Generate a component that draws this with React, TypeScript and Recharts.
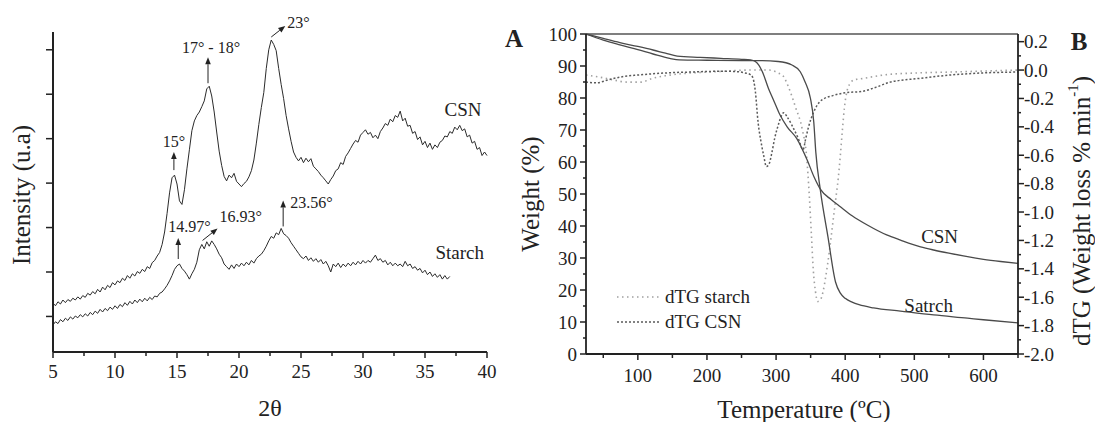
import React from 'react'
import { LineChart, Line, XAxis, YAxis, ReferenceDot, ReferenceLine } from 'recharts'

const FONT = '"Liberation Serif", "Times New Roman", serif'
const INK = '#222'

// ---- XRD (left panel): intensity read every 0.2° from 2θ = 5°
const xrdStart = 5
const xrdStep = 0.2
const csnIntensity = [
  130, 124, 133, 128, 137, 131, 138, 134, 141, 137,
  144, 139, 147, 143, 152, 148, 156, 151, 161, 155,
  166, 160, 170, 165, 176, 171, 180, 176, 186, 181,
  192, 186, 196, 191, 201, 197, 206, 201, 212, 208,
  221, 226, 236, 244, 262, 290, 332, 378, 412, 418,
  398, 360, 352, 385, 432, 475, 518, 540, 552, 560,
  572, 585, 612, 618, 596, 560, 515, 472, 440, 415,
  405, 418, 412, 422, 404, 398, 392, 399, 404, 414,
  428, 452, 490, 532, 570, 604, 658, 700, 722, 712,
  698, 658, 622, 590, 552, 522, 494, 470, 458, 450,
  458, 446, 456, 448, 455, 438, 432, 426, 418, 412,
  405, 398, 408, 416, 428, 432, 446, 442, 460, 468,
  478, 488, 496, 492, 508, 514, 520, 510, 514, 502,
  508, 500, 516, 524, 534, 530, 544, 538, 552, 548,
  562, 540, 546, 528, 530, 512, 516, 498, 504, 486,
  494, 480, 490, 476, 486, 480, 492, 496, 506, 504,
  516, 512, 526, 520, 530, 518, 522, 504, 508, 490,
  494, 476, 480, 462, 470, 462,
]
const starchIntensity = [
  81, 88, 84, 93, 88, 96, 91, 99, 94, 101,
  97, 104, 99, 106, 101, 109, 104, 112, 107, 116,
  110, 118, 113, 121, 116, 124, 118, 127, 122, 131,
  125, 134, 128, 137, 131, 139, 133, 141, 135, 143,
  138, 146, 144, 152, 155, 162, 170, 180, 192, 206,
  214, 218, 208, 202, 194, 184, 196, 206, 222, 250,
  262, 252, 268, 258, 270, 262, 252, 240, 232, 218,
  212, 206, 216, 208, 218, 212, 220, 214, 222, 216,
  226, 220, 230, 236, 240, 248, 258, 270, 280, 276,
  288, 284, 298, 286, 282, 276, 266, 258, 250, 242,
  234, 230, 236, 226, 232, 224, 230, 222, 228, 218,
  224, 214, 200, 218, 212, 220, 210, 218, 212, 220,
  214, 222, 216, 224, 218, 226, 220, 226, 222, 230,
  238, 226, 230, 222, 226, 216, 222, 214, 220, 214,
  218, 212, 224, 214, 218, 208, 212, 204, 208, 198,
  204, 194, 200, 190, 196, 188, 194, 184, 192, 184,
  190,
]
const twoThetaTicks = [5, 7.5, 10, 12.5, 15, 17.5, 20, 22.5, 25, 27.5, 30, 32.5, 35, 37.5, 40]
const intensityTicks = [100, 200, 300, 400, 500, 600, 700]

// peak notes: data point, then arrow / text offsets in px
const xrdNotes = [
  { x: 14.75, y: 418, text: '15°', arrow: [0, -5, 0, -23], tx: 0, ty: -28, anchor: 'middle' },
  { x: 17.5, y: 618, text: '17° - 18°', arrow: [0, -3, 0, -29], tx: 3, ty: -33, anchor: 'middle' },
  { x: 22.6, y: 722, text: '23°', arrow: [0, -3, 14, -14], tx: 16, ty: -12, anchor: 'start' },
  { x: 15.1, y: 218, text: '14.97°', arrow: [0, -5, 0, -26], tx: -10, ty: -32, anchor: 'start' },
  { x: 16.9, y: 262, text: '16.93°', arrow: [2, -4, 17, -16], tx: 19, ty: -22, anchor: 'start' },
  { x: 23.4, y: 298, text: '23.56°', arrow: [2, -2, 2, -28], tx: 9, ty: -20, anchor: 'start' },
]
const xrdLabels = [
  { x: 38.06, y: 551, text: 'CSN' },
  { x: 37.8, y: 229, text: 'Starch' },
]

// ---- TGA / dTG (right panel): [temperature °C, value]
const csnWeight: [number, number][] = [
  [25, 100], [50, 98.6], [74, 97.3], [100, 96.1], [122, 95.0], [140, 94.0], [157, 93.1],
  [190, 92.7], [220, 92.4], [250, 92.1], [263, 91.9], [270, 91.4], [275, 90.3], [280, 88.3],
  [289, 83], [297, 79], [305, 75], [316, 71], [330, 67.3], [345, 60.6], [355, 55.3],
  [364, 51.5], [380, 48.2], [393, 46], [410, 43.2], [432, 40.3], [460, 37.2], [480, 35.6],
  [509, 33.5], [528, 32.5], [550, 31.5], [577, 30.4], [600, 29.6], [625, 28.9], [650, 28.3],
]
const starchWeight: [number, number][] = [
  [25, 100], [50, 98.1], [74, 96.6], [100, 95.1], [122, 93.75], [146, 92.4], [160, 91.9],
  [200, 91.8], [250, 91.7], [277, 91.7], [303, 91.4], [323, 90.3], [335, 88.2], [342, 85],
  [349.6, 80], [354.5, 72.6], [357.5, 63], [364, 51.3], [375, 36.7], [386, 22.5], [393, 19],
  [400, 17.4], [410, 16.2], [420, 15.4], [441, 14.4], [480, 13.4], [528, 12.2], [577, 11.2],
  [600, 10.7], [650, 9.7],
]
const csnDtg: [number, number][] = [
  [25, -0.085], [40, -0.09], [60, -0.065], [80, -0.045], [100, -0.035], [125, -0.025],
  [150, -0.018], [175, -0.014], [200, -0.01], [225, -0.008], [245, -0.012], [255, -0.02],
  [262, -0.03], [266, -0.05], [270, -0.15], [274, -0.37], [278, -0.5], [282, -0.6],
  [286, -0.68], [290, -0.66], [294, -0.58], [298, -0.48], [303, -0.39], [307, -0.33],
  [311, -0.3], [316, -0.33], [323, -0.39], [332, -0.48], [339, -0.56], [343, -0.48],
  [347, -0.4], [354, -0.3], [362, -0.23], [370, -0.2], [382, -0.18], [400, -0.16],
  [425, -0.15], [445, -0.12], [465, -0.085], [505, -0.06], [552, -0.035], [600, -0.02],
  [650, -0.014],
]
const starchDtg: [number, number][] = [
  [25, -0.035], [45, -0.05], [65, -0.07], [85, -0.085], [105, -0.085], [120, -0.06],
  [140, -0.04], [165, -0.025], [200, -0.014], [230, -0.007], [260, 0], [290, 0],
  [303, -0.02], [310, -0.04], [318, -0.12], [328, -0.26], [338, -0.42], [344, -0.6],
  [348, -0.88], [351, -1.15], [354, -1.42], [357, -1.56], [360, -1.63], [364, -1.62],
  [368, -1.56], [372, -1.45], [377, -1.28], [382, -1.08], [386, -0.92], [390, -0.76],
  [393, -0.6], [396, -0.42], [399, -0.26], [403, -0.14], [408, -0.09], [412, -0.07],
  [425, -0.06], [455, -0.035], [505, -0.02], [553, -0.014], [600, -0.007], [650, 0],
]
const tempTicks = [50, 100, 150, 200, 250, 300, 350, 400, 450, 500, 550, 600, 650]
const weightTicks = [0, 5, 10, 15, 20, 25, 30, 35, 40, 45, 50, 55, 60, 65, 70, 75, 80, 85, 90, 95, 100]
const dtgTicks = [
  -2.0, -1.9, -1.8, -1.7, -1.6, -1.5, -1.4, -1.3, -1.2, -1.1, -1.0,
  -0.9, -0.8, -0.7, -0.6, -0.5, -0.4, -0.3, -0.2, -0.1, 0, 0.1, 0.2,
]
const tgaLabels = [
  { x: 536.6, y: 34.7, text: 'CSN' },
  { x: 520.7, y: 13.1, text: 'Satrch' },
]

const starchDtgStyle = { stroke: '#a0a0a0', dash: '1.5 3.5', width: 1.6 }
const csnDtgStyle = { stroke: '#5a5a5a', dash: '2 2', width: 1.5 }

const toPts = (arr: [number, number][]) => arr.map(([x, y]) => ({ x, y }))

// ticks drawn by hand so majors and minors can differ in length
const bottomTick = (isMajor: (v: number) => boolean, fmt: (v: number) => string, gap: number) =>
  (p: any) => {
    const major = isMajor(p.payload.value)
    return (
      <g>
        <line x1={p.x} x2={p.x} y1={p.y} y2={p.y + (major ? 6 : 4)} stroke={INK} strokeWidth={1.5} />
        {major && (
          <text x={p.x} y={p.y + gap} textAnchor="middle" fontFamily={FONT} fontSize={19} fill={INK}>
            {fmt(p.payload.value)}
          </text>
        )}
      </g>
    )
  }

const sideTick = (side: 'left' | 'right', isMajor: (v: number) => boolean, fmt: ((v: number) => string) | null, len: number) =>
  (p: any) => {
    const major = isMajor(p.payload.value)
    const s = side === 'left' ? -1 : 1
    const l = major ? len : len / 2
    return (
      <g>
        <line x1={p.x} x2={p.x + s * l} y1={p.y} y2={p.y} stroke={INK} strokeWidth={1.5} />
        {major && fmt && (
          <text
            x={p.x + s * (side === 'left' ? 9 : 6)}
            y={p.y}
            textAnchor={side === 'left' ? 'end' : 'start'}
            dominantBaseline="central"
            fontFamily={FONT}
            fontSize={19}
            fill={INK}
          >
            {fmt(p.payload.value)}
          </text>
        )}
      </g>
    )
  }

const noteShape = (n: (typeof xrdNotes)[number]) => (p: any) => {
  const { cx, cy } = p
  const [x1, y1, x2, y2] = n.arrow
  const ax = cx + x2
  const ay = cy + y2
  const ang = Math.atan2(y2 - y1, x2 - x1)
  const hl = 7
  const hw = 2.8
  const bx = ax - hl * Math.cos(ang)
  const by = ay - hl * Math.sin(ang)
  const px = -Math.sin(ang) * hw
  const py = Math.cos(ang) * hw
  return (
    <g>
      <line x1={cx + x1} y1={cy + y1} x2={bx} y2={by} stroke={INK} strokeWidth={1} />
      <polygon points={`${ax},${ay} ${bx + px},${by + py} ${bx - px},${by - py}`} fill={INK} />
      <text x={cx + n.tx} y={cy + n.ty} textAnchor={n.anchor as any} fontFamily={FONT} fontSize={16} fill={INK}>
        {n.text}
      </text>
    </g>
  )
}

const textShape = (t: string) => (p: any) => (
  <text x={p.cx} y={p.cy} textAnchor="middle" fontFamily={FONT} fontSize={19} fill={INK}>
    {t}
  </text>
)

function XrdPanel() {
  const csn = csnIntensity.map((v, i) => ({ x: +(xrdStart + i * xrdStep).toFixed(1), y: v }))
  const starch = starchIntensity.map((v, i) => ({ x: +(xrdStart + i * xrdStep).toFixed(1), y: v }))
  return (
    <LineChart width={520} height={422} margin={{ top: 32, right: 33, left: 13, bottom: 40 }}>
      <XAxis
        type="number"
        dataKey="x"
        domain={[5, 40]}
        ticks={twoThetaTicks}
        interval={0}
        height={30}
        tickSize={0}
        tickMargin={0}
        tickLine={false}
        axisLine={{ stroke: INK, strokeWidth: 2 }}
        tick={bottomTick((v) => v % 5 === 0, (v) => String(v), 26)}
      />
      <YAxis
        type="number"
        domain={[20, 740]}
        ticks={intensityTicks}
        interval={0}
        width={40}
        tickSize={0}
        tickMargin={0}
        tickLine={false}
        axisLine={{ stroke: INK, strokeWidth: 2 }}
        tick={sideTick('left', () => true, null, 7)}
      />
      <Line data={csn} dataKey="y" type="linear" stroke="#2b2b2b" strokeWidth={1} dot={false} activeDot={false} isAnimationActive={false} />
      <Line data={starch} dataKey="y" type="linear" stroke="#2b2b2b" strokeWidth={1} dot={false} activeDot={false} isAnimationActive={false} />
      {xrdNotes.map((n) => (
        <ReferenceDot key={n.text} x={n.x} y={n.y} r={1} fill="none" stroke="none" shape={noteShape(n)} />
      ))}
      {xrdLabels.map((l) => (
        <ReferenceDot key={l.text} x={l.x} y={l.y} r={1} fill="none" stroke="none" shape={textShape(l.text)} />
      ))}
    </LineChart>
  )
}

function TgaPanel() {
  return (
    <LineChart width={595} height={422} margin={{ top: 34, right: 37, left: 46, bottom: 38 }}>
      <XAxis
        type="number"
        dataKey="x"
        domain={[25, 650]}
        ticks={tempTicks}
        interval={0}
        height={30}
        tickSize={0}
        tickMargin={0}
        tickLine={false}
        axisLine={{ stroke: INK, strokeWidth: 1.8 }}
        tick={bottomTick((v) => v % 100 === 0, (v) => String(v), 28)}
      />
      <YAxis
        yAxisId="w"
        type="number"
        domain={[0, 100]}
        ticks={weightTicks}
        interval={0}
        width={40}
        tickSize={0}
        tickMargin={0}
        tickLine={false}
        axisLine={{ stroke: INK, strokeWidth: 1.8 }}
        tick={sideTick('left', (v) => v % 10 === 0, (v) => String(v), 6)}
      />
      <YAxis
        yAxisId="d"
        orientation="right"
        type="number"
        domain={[-2, 0.254]}
        ticks={dtgTicks}
        interval={0}
        width={40}
        tickSize={0}
        tickMargin={0}
        tickLine={false}
        axisLine={{ stroke: INK, strokeWidth: 1.8 }}
        tick={sideTick('right', (v) => Math.round(v * 10) % 2 === 0, (v) => v.toFixed(1), 6)}
      />
      <ReferenceLine yAxisId="w" y={100} stroke="#555" strokeWidth={1.5} />
      <Line yAxisId="d" data={toPts(starchDtg)} dataKey="y" type="monotone" stroke={starchDtgStyle.stroke} strokeDasharray={starchDtgStyle.dash} strokeWidth={starchDtgStyle.width} dot={false} activeDot={false} isAnimationActive={false} />
      <Line yAxisId="d" data={toPts(csnDtg)} dataKey="y" type="monotone" stroke={csnDtgStyle.stroke} strokeDasharray={csnDtgStyle.dash} strokeWidth={csnDtgStyle.width} dot={false} activeDot={false} isAnimationActive={false} />
      <Line yAxisId="w" data={toPts(csnWeight)} dataKey="y" type="monotone" stroke="#4a4a4a" strokeWidth={1.3} dot={false} activeDot={false} isAnimationActive={false} />
      <Line yAxisId="w" data={toPts(starchWeight)} dataKey="y" type="monotone" stroke="#4a4a4a" strokeWidth={1.3} dot={false} activeDot={false} isAnimationActive={false} />
      {tgaLabels.map((l) => (
        <ReferenceDot key={l.text} yAxisId="w" x={l.x} y={l.y} r={1} fill="none" stroke="none" shape={textShape(l.text)} />
      ))}
    </LineChart>
  )
}

export default function App() {
  return (
    <div style={{ position: 'absolute', left: 0, top: 0, width: 1095, height: 422, background: '#fff' }}>
      <div style={{ position: 'absolute', left: 0, top: 0 }}>
        <XrdPanel />
      </div>
      <div style={{ position: 'absolute', left: 500, top: 0 }}>
        <TgaPanel />
      </div>
      <svg width={1095} height={422} style={{ position: 'absolute', left: 0, top: 0, pointerEvents: 'none' }} fontFamily={FONT} fill={INK}>
        <text transform="translate(21,195) rotate(-90)" textAnchor="middle" dominantBaseline="central" fontSize={25}>
          Intensity (u.a)
        </text>
        <text x={270} y={416} textAnchor="middle" fontSize={24}>2θ</text>
        <text x={514} y={47} textAnchor="middle" fontSize={25} fontWeight="bold">A</text>
        <text x={1079} y={50} textAnchor="middle" fontSize={25} fontWeight="bold">B</text>
        <text transform="translate(530,194) rotate(-90)" textAnchor="middle" dominantBaseline="central" fontSize={25}>
          Weight (%)
        </text>
        <text x={804} y={418} textAnchor="middle" fontSize={25}>Temperature (ºC)</text>
        <text transform="translate(1081,211) rotate(-90)" textAnchor="middle" dominantBaseline="central" fontSize={25}>
          dTG (Weight loss % min
          <tspan baselineShift="super" fontSize={15}>-1</tspan>)
        </text>
        <line x1={617} x2={660} y1={297} y2={297} stroke={starchDtgStyle.stroke} strokeDasharray={starchDtgStyle.dash} strokeWidth={starchDtgStyle.width} />
        <text x={665} y={303} fontSize={19}>dTG starch</text>
        <line x1={617} x2={660} y1={322} y2={322} stroke={csnDtgStyle.stroke} strokeDasharray={csnDtgStyle.dash} strokeWidth={csnDtgStyle.width} />
        <text x={665} y={328} fontSize={19}>dTG CSN</text>
      </svg>
    </div>
  )
}
